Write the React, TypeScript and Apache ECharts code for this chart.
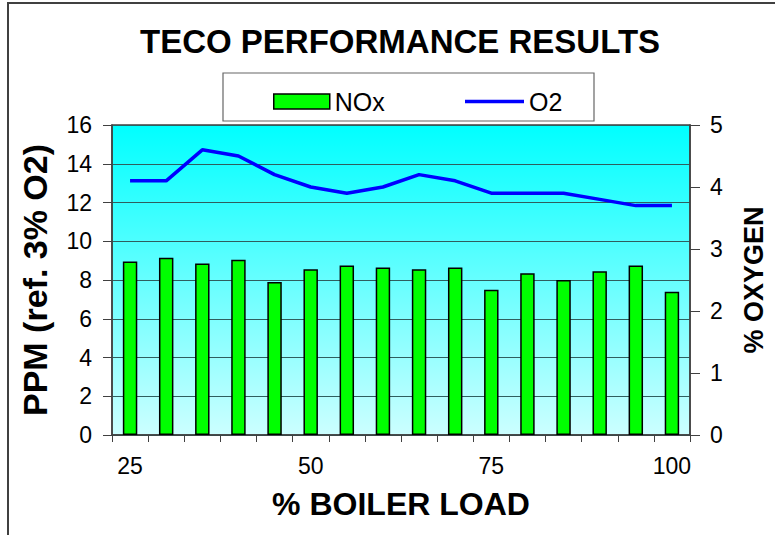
import React, { useEffect, useRef } from "react";
import * as echarts from "echarts";

const categories = ["25", "30", "35", "40", "45", "50", "55", "60", "65", "70", "75", "80", "85", "90", "95", "100"];
const noxValues = [8.95, 9.15, 8.85, 9.05, 7.9, 8.55, 8.75, 8.65, 8.55, 8.65, 7.5, 8.35, 8.0, 8.45, 8.75, 7.4];
const o2Values = [4.1, 4.1, 4.6, 4.5, 4.2, 4.0, 3.9, 4.0, 4.2, 4.1, 3.9, 3.9, 3.9, 3.8, 3.7, 3.7];
const leftTicks = { min: 0, max: 16, interval: 2 };
const rightTicks = { min: 0, max: 5, interval: 1 };

const FONT = "Liberation Sans, Arial, sans-serif";

export default function App() {
  const ref = useRef<HTMLDivElement>(null);
  useEffect(() => {
    if (!ref.current) return;
    const chart = echarts.init(ref.current, undefined, { renderer: "svg" });
    chart.setOption({
      animation: false,
      backgroundColor: "#ffffff",
      textStyle: { fontFamily: FONT },
      title: {
        text: "TECO PERFORMANCE RESULTS",
        left: 135,
        top: 20,
        textStyle: { fontSize: 33, fontWeight: "bold", color: "#000", fontFamily: FONT },
      },
      graphic: [
        {
          type: "rect",
          shape: { x: 8, y: 3, width: 800, height: 600 },
          style: { fill: "none", stroke: "#404040", lineWidth: 2 },
          silent: true,
          z: 100,
        },
        {
          type: "rect",
          shape: { x: 223, y: 73, width: 371, height: 48 },
          style: { fill: "#fff", stroke: "#666", lineWidth: 1.2 },
          silent: true,
          z: -1,
        },
      ],
      legend: [
        {
          left: 268,
          top: 84,
          itemWidth: 56,
          itemHeight: 15,
          textStyle: { fontSize: 25, color: "#000", fontFamily: FONT },
          data: [{ name: "NOx", icon: "rect", itemStyle: { color: "#00ff00", borderColor: "#000", borderWidth: 1.5 } }],
        },
        {
          left: 460,
          top: 84,
          itemWidth: 59,
          itemHeight: 3.5,
          textStyle: { fontSize: 25, color: "#000", fontFamily: FONT },
          data: [{ name: "O2", icon: "rect", itemStyle: { color: "#0000ff", borderWidth: 0 } }],
        },
      ],
      grid: {
        left: 112,
        right: 85,
        top: 125,
        bottom: 100,
        outerBoundsMode: "none",
        containLabel: false,
        show: true,
        borderColor: "#404040",
        borderWidth: 1.5,
        backgroundColor: new echarts.graphic.LinearGradient(0, 0, 0, 1, [
          { offset: 0, color: "#00ffff" },
          { offset: 1, color: "#ccffff" },
        ]),
      },
      xAxis: {
        type: "category",
        data: categories,
        boundaryGap: true,
        name: "% BOILER LOAD",
        nameLocation: "middle",
        nameGap: 53,
        nameTextStyle: { fontSize: 32, fontWeight: "bold", color: "#000", fontFamily: FONT },
        axisLine: { lineStyle: { color: "#404040", width: 1.5 } },
        axisTick: { show: true, interval: 0, length: 7, lineStyle: { color: "#404040" } },
        axisLabel: { interval: 4, fontSize: 23, color: "#000", margin: 19, fontFamily: FONT },
      },
      yAxis: [
        {
          type: "value",
          ...leftTicks,
          name: "PPM (ref. 3% O2)",
          nameLocation: "middle",
          nameGap: 60,
          nameTextStyle: { fontSize: 34, fontWeight: "bold", color: "#000", fontFamily: FONT },
          axisLine: { show: true, lineStyle: { color: "#404040", width: 1.5 } },
          axisTick: { show: true, length: 9, lineStyle: { color: "#404040" } },
          axisLabel: { fontSize: 23, color: "#000", margin: 20, fontFamily: FONT },
          splitLine: { show: true, lineStyle: { color: "#2f5f5f", width: 1 } },
        },
        {
          type: "value",
          ...rightTicks,
          name: "% OXYGEN",
          nameLocation: "middle",
          nameGap: 50,
          nameRotate: 90,
          nameTextStyle: { fontSize: 27, fontWeight: "bold", color: "#000", fontFamily: FONT },
          axisLine: { show: true, lineStyle: { color: "#404040", width: 1.5 } },
          axisTick: { show: true, length: 10, lineStyle: { color: "#404040" } },
          axisLabel: { fontSize: 23, color: "#000", margin: 20, fontFamily: FONT },
          splitLine: { show: false },
        },
      ],
      series: [
        {
          name: "NOx",
          type: "bar",
          yAxisIndex: 0,
          data: noxValues,
          barWidth: "40%",
          itemStyle: { color: "#00ff00", borderColor: "#000", borderWidth: 1.5 },
        },
        {
          name: "O2",
          type: "line",
          yAxisIndex: 1,
          data: o2Values,
          showSymbol: false,
          symbol: "none",
          lineStyle: { color: "#0000ff", width: 3.5 },
          itemStyle: { color: "#0000ff" },
        },
      ],
    });
    return () => chart.dispose();
  }, []);
  return <div ref={ref} style={{ position: "absolute", left: 0, top: 0, width: 775, height: 535 }} />;
}
